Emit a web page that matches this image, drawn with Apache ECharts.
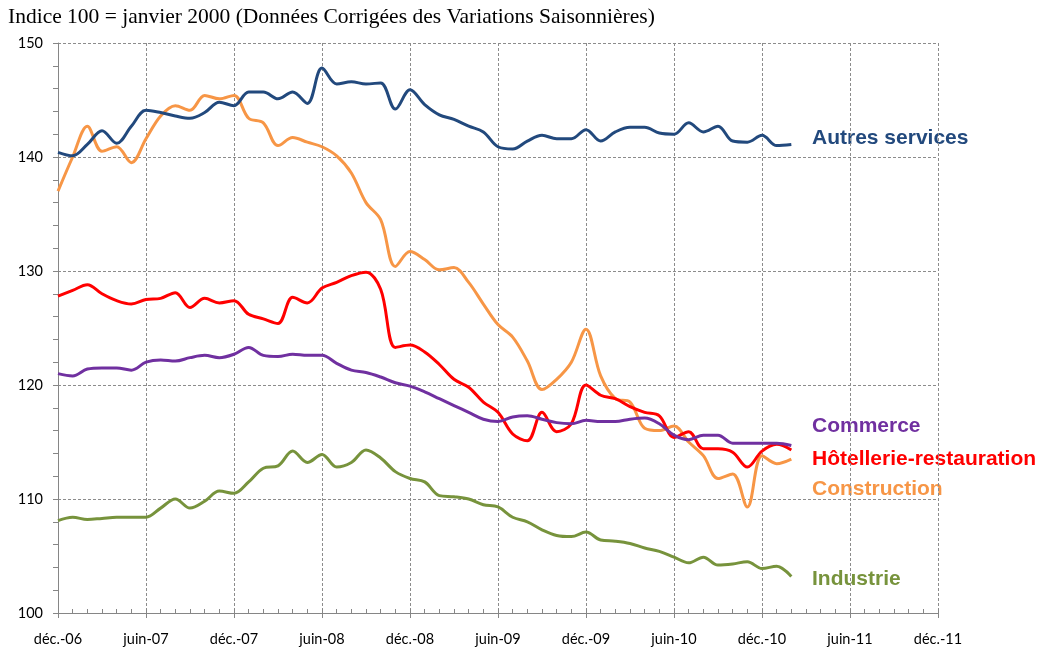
<!DOCTYPE html>
<html>
<head>
<meta charset="utf-8">
<script src="https://cdn.jsdelivr.net/npm/echarts@6/dist/echarts.min.js"></script>
<style>
html,body{margin:0;padding:0;background:#fff;}
#chart{width:1046px;height:647px;}
</style>
</head>
<body>
<div id="chart"></div>
<script>
// Month names used to build the category labels (déc. 2006 .. déc. 2011)
var monthNames = ['janv.','févr.','mars','avr.','mai','juin','juil.','août','sept.','oct.','nov.','déc.'];
var categories = [];
for (var k = 0; k <= 60; k++) {
  var m = (11 + k) % 12;
  var y = 6 + Math.floor((11 + k) / 12);
  categories.push(monthNames[m] + '-' + (y < 10 ? '0' + y : y));
}

var autresServices = [140.4,140.1,141.1,142.3,141.2,142.7,144.1,143.9,143.6,143.4,143.9,144.8,144.5,145.7,145.7,145.1,145.7,144.7,147.8,146.4,146.6,146.4,146.5,144.2,145.9,144.6,143.7,143.3,142.7,142.2,140.9,140.7,141.4,141.9,141.6,141.6,142.4,141.4,142.2,142.6,142.6,142.1,142.0,143.0,142.2,142.7,141.4,141.3,141.9,141.0,141.1];
var commerce = [121.0,120.8,121.4,121.5,121.5,121.3,122.0,122.2,122.1,122.4,122.6,122.4,122.7,123.3,122.6,122.5,122.7,122.6,122.6,121.9,121.3,121.1,120.7,120.2,119.9,119.4,118.8,118.2,117.6,117.0,116.8,117.2,117.3,117.0,116.7,116.6,116.9,116.8,116.8,117.0,117.1,116.6,115.6,115.2,115.6,115.6,114.9,114.9,114.9,114.9,114.7];
var hotellerie = [127.8,128.3,128.8,128.0,127.4,127.1,127.5,127.6,128.1,126.8,127.6,127.2,127.4,126.2,125.8,125.4,127.7,127.2,128.5,129.0,129.6,129.9,128.4,123.3,123.5,122.9,121.8,120.5,119.8,118.5,117.6,115.7,115.1,117.6,115.9,116.6,120.0,119.1,118.8,118.1,117.6,117.3,115.4,115.9,114.4,114.4,114.1,112.8,114.2,114.8,114.3];
var construction = [137.0,140.0,142.7,140.5,140.9,139.5,141.6,143.6,144.5,144.1,145.4,145.1,145.4,143.4,143.0,141.0,141.7,141.3,140.9,140.1,138.6,136.0,134.5,130.4,131.7,131.0,130.1,130.3,129.0,127.1,125.3,124.2,122.1,119.6,120.5,122.0,124.9,120.8,118.8,118.5,116.2,116.0,116.4,115.0,113.8,111.8,112.2,109.3,113.8,113.1,113.5];
var industrie = [108.1,108.4,108.2,108.3,108.4,108.4,108.4,109.2,110.0,109.2,109.8,110.7,110.5,111.5,112.7,112.9,114.2,113.2,113.9,112.8,113.2,114.3,113.6,112.4,111.8,111.5,110.3,110.2,110.0,109.5,109.3,108.4,108.0,107.3,106.8,106.7,107.1,106.4,106.3,106.1,105.7,105.4,104.9,104.4,104.9,104.2,104.3,104.5,103.9,104.1,103.2];

var seriesNames = ['Autres services','Commerce','Hôtellerie-restauration','Construction','Industrie'];
var seriesData = [autresServices, commerce, hotellerie, construction, industrie];
var seriesColors = ['#22497D','#7030A0','#FF0000','#F79646','#77933C'];
var labelY = [137, 425, 458, 488, 578];

var chart = echarts.init(document.getElementById('chart'), null, {renderer:'canvas'});

var series = seriesNames.map(function(n, i){
  return {
    name: n, type: 'line', data: seriesData[i], smooth: 0.35,
    showSymbol: false, symbol: 'none',
    lineStyle: {color: seriesColors[i], width: 3},
    itemStyle: {color: seriesColors[i]},
    z: 10 - i
  };
});

var graphics = [{
  type: 'text', left: 8, top: 6,
  style: {text: 'Indice 100 = janvier 2000 (Données Corrigées des Variations Saisonnières)',
    font: '21.5px "Liberation Serif", "Times New Roman", serif', fill: '#000'}
}];
seriesNames.forEach(function(n, i){
  graphics.push({
    type: 'text', left: 812, top: labelY[i] - 9,
    style: {text: n, font: 'bold 21px "Liberation Sans", Arial, sans-serif', fill: seriesColors[i]}
  });
});

var labelFont = 'Lato, "Open Sans", sans-serif';

chart.setOption({
  animation: false,
  backgroundColor: '#fff',
  grid: {left: 58, right: 108, top: 43, bottom: 32, containLabel: false},
  xAxis: [{
    type: 'category', data: categories, boundaryGap: false,
    axisLine: {show: true, lineStyle: {color: '#868686', width: 1}},
    axisTick: {show: true, interval: 5, length: 5, inside: false, lineStyle: {color: '#868686'}},
    axisLabel: {interval: 5, color: '#000', fontFamily: labelFont, fontSize: 14.5, margin: 19},
    splitLine: {show: true, interval: 5, lineStyle: {color: '#8c8c8c', type: [3,2], width: 1}}
  }, {
    type: 'category', data: categories, boundaryGap: false, position: 'bottom',
    axisLine: {show: false},
    axisTick: {show: true, interval: 0, length: 4, inside: true, lineStyle: {color: '#868686'}},
    axisLabel: {show: false},
    splitLine: {show: false}
  }],
  yAxis: {
    type: 'value', min: 100, max: 150, interval: 10,
    axisLine: {show: true, lineStyle: {color: '#868686', width: 1}},
    axisTick: {show: true, length: 5, lineStyle: {color: '#868686'}},
    minorTick: {show: true, splitNumber: 5, length: 5, lineStyle: {color: '#868686'}},
    axisLabel: {color: '#000', fontFamily: labelFont, fontSize: 14.5, margin: 15},
    splitLine: {show: true, lineStyle: {color: '#8c8c8c', type: [3,2], width: 1}}
  },
  series: series,
  graphic: graphics
});
</script>
</body>
</html>
